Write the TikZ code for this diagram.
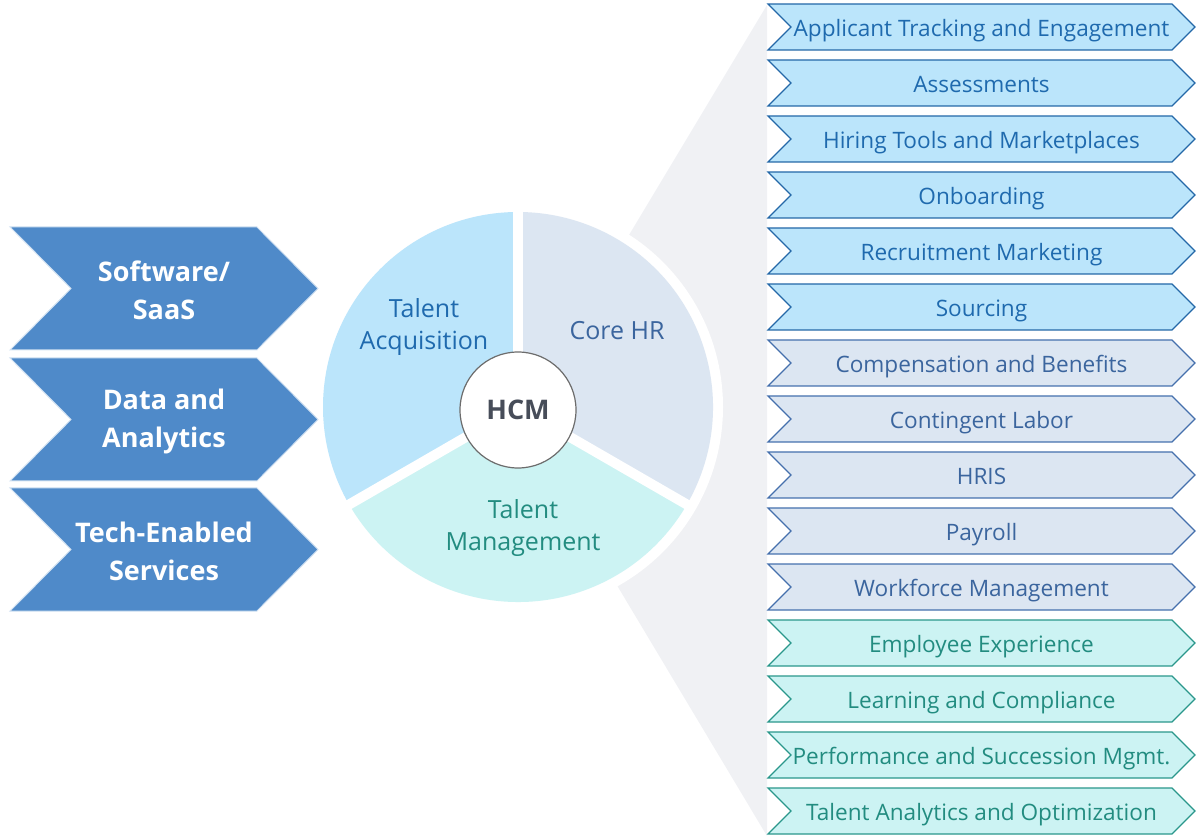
\documentclass[tikz,border=0pt]{standalone}
\usepackage{fontspec}
\setmainfont{Open Sans}
\definecolor{leadblue}{HTML}{4F8AC9}
\definecolor{taFill}{HTML}{BBE5FB}
\definecolor{taLine}{HTML}{2468A8}
\definecolor{taText}{HTML}{1F6AAE}
\definecolor{hrFill}{HTML}{DCE6F2}
\definecolor{hrLine}{HTML}{4570AD}
\definecolor{hrText}{HTML}{3B659E}
\definecolor{tmFill}{HTML}{CCF3F3}
\definecolor{tmLine}{HTML}{2A978B}
\definecolor{tmText}{HTML}{228C80}
\definecolor{fanGray}{HTML}{F0F1F4}
\definecolor{hcmText}{HTML}{474D59}

\begin{document}
\begin{tikzpicture}[x=1pt,y=1pt,line width=1.2pt,
  ta box/.style={fill=taFill,draw=taLine},
  hr box/.style={fill=hrFill,draw=hrLine},
  tm box/.style={fill=tmFill,draw=tmLine},
  ta text/.style={text=taText},
  hr text/.style={text=hrText},
  tm text/.style={text=tmText},
  lead/.style={fill=leadblue,draw=white!75!leadblue,line width=1pt},
  slice/.style={align=center,font=\fontsize{25}{32}\selectfont}]
  \useasboundingbox (0,0) rectangle (1199,836);
  \fill[fanGray] (518,416) -- (767,831) -- (767,0) -- cycle;
  \fill[white] (518,429) circle[radius=205pt];
  \fill[taFill] (518,429) -- ++(90:195pt) arc[start angle=90,end angle=210,radius=195pt] -- cycle;
  \fill[tmFill] (518,429) -- ++(210:195pt) arc[start angle=210,end angle=330,radius=195pt] -- cycle;
  \fill[hrFill] (518,429) -- ++(-30:195pt) arc[start angle=-30,end angle=90,radius=195pt] -- cycle;
  \foreach \a in {90,210,330}
    \draw[white,line width=10pt] (518,429) -- ++(\a:200pt);
  \node[slice,ta text] (acq) at (424,509) {Talent\\Acquisition};
  \node[slice,hr text] (core) at (617,505) {Core HR};
  \node[slice,tm text] (mgmt) at (523,308) {Talent\\Management};
  \node[circle,draw=gray!85!black,fill=white,minimum size=116pt,text=hcmText,
    font=\bfseries\fontsize{27}{30}\selectfont] (hcm) at (518,426) {HCM};

  % delivery models
  \foreach \y/\lab [count=\i] in {547.5/{Software/\\SaaS},416.5/{Data and\\Analytics},286.5/{Tech-Enabled\\Services}} {
    \draw[lead] (10,\y+61.5) -- (257,\y+61.5) -- (318,\y) -- (257,\y-61.5) -- (10,\y-61.5) -- (71,\y) -- cycle;
    \node[text=white,align=center,font=\bfseries\fontsize{27}{38}\selectfont] (model\i) at (164,\y-2) {\lab};
  }

  % segment list
  \foreach \lab/\grp [count=\i from 0] in {Applicant Tracking and Engagement/ta,Assessments/ta,
      Hiring Tools and Marketplaces/ta,Onboarding/ta,Recruitment Marketing/ta,Sourcing/ta,
      Compensation and Benefits/hr,Contingent Labor/hr,HRIS/hr,Payroll/hr,Workforce Management/hr,
      Employee Experience/tm,Learning and Compliance/tm,Performance and Succession Mgmt./tm,
      Talent Analytics and Optimization/tm} {
    \pgfmathsetmacro\y{809-56*\i}
    \draw[\grp\space box] (768,\y+23) -- (1172,\y+23) -- (1195,\y) -- (1172,\y-23) -- (768,\y-23) -- (791,\y) -- cycle;
    \node[\grp\space text,anchor=base,font=\fontsize{22.6}{26}\selectfont] (seg\i) at (981.5,\y-9.5) {\lab};
  }
\end{tikzpicture}
\end{document}
